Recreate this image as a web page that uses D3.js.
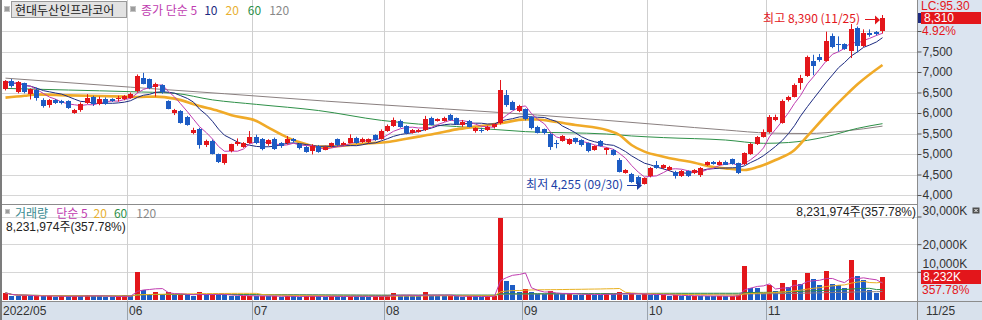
<!DOCTYPE html>
<html>
<head>
<meta charset="utf-8">
<script src="https://cdn.jsdelivr.net/npm/d3@7"></script>
<style>
  body { margin: 0; background: #fff; }
  svg { display: block; }
  text { font-family: "Liberation Sans", "Noto Sans CJK KR", sans-serif; font-size: 12px; }
  .kr { font-family: "Noto Sans CJK KR", sans-serif; }
</style>
</head>
<body>
<svg id="chart" width="982" height="320"></svg>
<script>
// trading days per month, 2022
const DAYS_MAY = [3, 4, 6, 9, 10, 11, 12, 13, 16, 17, 18, 19, 20, 23, 24, 25, 26, 27, 30, 31];
const DAYS_JUN = [2, 3, 7, 8, 9, 10, 13, 14, 15, 16, 17, 20, 21, 22, 23, 24, 27, 28, 29, 30];
const DAYS_JUL = [1, 4, 5, 6, 7, 8, 11, 12, 13, 14, 15, 18, 19, 20, 21, 22, 25, 26, 27, 28, 29];
const DAYS_AUG = [1, 2, 3, 4, 5, 8, 9, 10, 11, 12, 16, 17, 18, 19, 22, 23, 24, 25, 26, 29, 30, 31];
const DAYS_SEP = [1, 2, 5, 6, 7, 8, 13, 14, 15, 16, 19, 20, 21, 22, 23, 26, 27, 28, 29, 30];
const DAYS_OCT = [4, 5, 6, 7, 11, 12, 13, 14, 17, 18, 19, 20, 21, 24, 25, 26, 27, 28, 31];
const DAYS_NOV = [1, 2, 3, 4, 7, 8, 9, 10, 11, 14, 15, 16, 17, 18, 21, 22, 23, 24, 25];

const MONTH_LABELS = ["2022/05", "06", "07", "08", "09", "10", "11"];

// [open, high, low, close]
const OHLC = [
  [6580, 6800, 6550, 6780], [6780, 6830, 6620, 6660], [6500, 6780, 6480, 6755], [6720, 6740, 6480, 6500],
  [6455, 6600, 6330, 6577], [6560, 6620, 6300, 6375], [6317, 6360, 6130, 6170], [6187, 6340, 6130, 6317],
  [6317, 6340, 6220, 6250], [6290, 6320, 6210, 6235], [6290, 6310, 6100, 6130], [6010, 6100, 5980, 6073],
  [6073, 6260, 6030, 6211], [6252, 6460, 6220, 6374], [6390, 6420, 6170, 6211], [6236, 6400, 6190, 6350],
  [6350, 6380, 6200, 6236], [6333, 6360, 6270, 6293], [6333, 6420, 6280, 6358], [6333, 6440, 6310, 6415],
  [6374, 6500, 6350, 6472], [6537, 6940, 6500, 6902], [6862, 6980, 6700, 6724], [6820, 6840, 6580, 6593],
  [6618, 6740, 6400, 6700], [6675, 6700, 6470, 6496], [6293, 6310, 6090, 6106], [6008, 6100, 5950, 6073],
  [6049, 6070, 5740, 5764], [5910, 5930, 5690, 5707], [5520, 5640, 5480, 5585], [5600, 5640, 5130, 5211],
  [5211, 5350, 5170, 5317], [5317, 5350, 4990, 5008], [4992, 5010, 4780, 4805], [4770, 5000, 4740, 4992],
  [5073, 5250, 5040, 5236], [5260, 5380, 5200, 5300], [5180, 5290, 5150, 5276], [5276, 5560, 5250, 5423],
  [5423, 5470, 5240, 5276], [5357, 5390, 5090, 5114], [5236, 5360, 5200, 5341], [5374, 5400, 5100, 5130],
  [5260, 5290, 5150, 5179], [5260, 5440, 5230, 5357], [5357, 5390, 5280, 5309], [5236, 5260, 5110, 5130],
  [5179, 5200, 5030, 5049], [5073, 5240, 4990, 5195], [5195, 5220, 5030, 5049], [5114, 5200, 5090, 5179],
  [5179, 5280, 5160, 5260], [5357, 5380, 5190, 5211], [5236, 5300, 5210, 5276], [5276, 5480, 5260, 5398],
  [5398, 5420, 5250, 5276], [5292, 5400, 5270, 5374], [5276, 5380, 5260, 5357], [5455, 5480, 5320, 5341],
  [5374, 5600, 5350, 5561], [5561, 5720, 5540, 5683], [5683, 5890, 5660, 5829], [5805, 5840, 5640, 5667],
  [5683, 5700, 5480, 5504], [5520, 5610, 5500, 5585], [5537, 5610, 5520, 5585], [5585, 5930, 5560, 5845],
  [5886, 5910, 5700, 5724], [5805, 5870, 5790, 5845], [5810, 5910, 5790, 5880], [5951, 5980, 5810, 5829],
  [5870, 5890, 5710, 5732], [5707, 5830, 5660, 5789], [5805, 5830, 5650, 5667], [5545, 5650, 5520, 5626],
  [5590, 5640, 5520, 5565], [5585, 5690, 5560, 5667], [5642, 5740, 5620, 5724], [5748, 6805, 5720, 6561],
  [6440, 6560, 6150, 6195], [6276, 6300, 6070, 6090], [6049, 6200, 6020, 6170], [6090, 6110, 5820, 5846],
  [5894, 5920, 5600, 5626], [5667, 5690, 5500, 5520], [5600, 5620, 5480, 5504], [5488, 5510, 5100, 5163],
  [5276, 5340, 5140, 5260], [5325, 5460, 5300, 5439], [5236, 5380, 5220, 5357], [5382, 5400, 5250, 5276],
  [5341, 5360, 5180, 5220], [5260, 5280, 5040, 5057], [5098, 5210, 5080, 5195], [5325, 5340, 5180, 5195],
  [5081, 5160, 4983, 5138], [5097, 5120, 4960, 4975], [4854, 4900, 4550, 4569], [4545, 4630, 4520, 4610],
  [4512, 4540, 4300, 4325], [4447, 4470, 4270, 4285], [4268, 4430, 4255, 4406], [4447, 4680, 4430, 4650],
  [4732, 4830, 4640, 4667], [4650, 4750, 4630, 4732], [4610, 4710, 4590, 4690], [4569, 4590, 4400, 4463],
  [4463, 4610, 4440, 4593], [4585, 4600, 4440, 4463], [4528, 4630, 4510, 4610], [4488, 4680, 4440, 4650],
  [4732, 4820, 4710, 4797], [4797, 4830, 4740, 4756], [4732, 4840, 4720, 4797], [4813, 4840, 4730, 4748],
  [4870, 4890, 4740, 4756], [4772, 4790, 4510, 4528], [4748, 5040, 4730, 5016], [5000, 5270, 4980, 5244],
  [5244, 5440, 5220, 5407], [5423, 5600, 5400, 5545], [5520, 5950, 5500, 5894], [5829, 5960, 5800, 5911],
  [5764, 6330, 5740, 6301], [6301, 6420, 6280, 6382], [6398, 6720, 6380, 6683], [6724, 6930, 6570, 6846],
  [6902, 7400, 6880, 7358], [7276, 7420, 6920, 7154], [7358, 7440, 7250, 7276], [7276, 7984, 7250, 7764],
  [7878, 7940, 7580, 7618], [7683, 7870, 7500, 7659], [7675, 7700, 7540, 7561], [7496, 8171, 7340, 8041],
  [8065, 8110, 7480, 7634], [7634, 8040, 7610, 7943], [7959, 8040, 7860, 7919], [7976, 8000, 7890, 7920],
  [7984, 8390, 7940, 8310],
];

// volume, thousand shares
const VOLUME = [
  2400, 1300, 1100, 1500, 1200, 1400, 1100, 1300, 1000, 1200, 1100, 1400, 1200, 1500, 1300, 1200, 1000, 900, 1100, 1500,
  1300, 9950, 3350, 2000, 2700, 1700, 2600, 1600, 1800, 1500, 1300, 2700, 1600, 1900, 1700, 1500, 1400, 1200, 1300, 1400,
  1200, 1300, 1100, 1200, 1000, 1300, 1100, 1000, 1200, 1300, 1100, 1000, 1200, 1100, 1000, 1400, 1200, 1100, 1000, 1100, 1300,
  1500, 2300, 1400, 1300, 1200, 1100, 2750, 1500, 1300, 1200, 1300, 1100, 1000, 1200, 1100, 1000, 1200, 1300, 29460, 6600, 5150, 2750,
  3950, 2750, 2100, 1900, 3000, 2100, 1900, 2000, 1800, 1700, 2000, 1800, 1600, 2300, 1900, 2750, 1800, 2000, 1700, 2100,
  1800, 1500, 1700, 1400, 1500, 1300, 1200, 1400, 1300, 1200, 1100, 1300, 1100, 1200, 1700, 12200, 4300, 4250, 2200,
  5200, 3000, 6000, 4450, 7000, 5500, 9650, 7350, 5200, 10250, 5550, 5400, 4100, 14200, 8450, 7000, 3600, 2300, 8232,
];

// longer averages: [day index, value]
const MA20_PTS = [
  [0, 6374], [3, 6420], [5, 6455], [10, 6430], [15, 6415], [19, 6400], [21, 6390], [24, 6400], [27, 6350],
  [31, 6170], [34, 6049], [36, 5943], [40, 5805], [42, 5642], [45, 5400], [48, 5236], [50, 5179], [52, 5179],
  [56, 5236], [58, 5260], [61, 5292], [64, 5374], [66, 5423], [69, 5504], [72, 5600], [75, 5667], [79, 5748],
  [83, 5845], [85, 5840], [88, 5780], [91, 5707], [96, 5585], [98, 5463], [100, 5220], [102, 5057], [105, 4935],
  [107, 4870], [110, 4789], [112, 4707], [115, 4650], [118, 4610], [120, 4680], [123, 4854], [126, 5097],
  [128, 5440], [131, 5951], [134, 6398], [136, 6700], [140, 7171],
];
const MA60_PTS = [
  [0, 6600], [10, 6560], [20, 6520], [27, 6480], [33, 6320], [40, 6210], [50, 6060], [60, 5820], [66, 5730],
  [72, 5670], [83, 5545], [96, 5488], [100, 5440], [105, 5400], [115, 5341], [121, 5260], [125, 5280],
  [131, 5423], [136, 5626], [140, 5740],
];
const MA120_PTS = [
  [0, 6850], [20, 6630], [35, 6470], [51, 6290], [70, 6100], [85, 5950], [105, 5707], [115, 5585],
  [122, 5510], [128, 5500], [134, 5560], [140, 5680],
];

const PRICE_TICKS = [4000, 4500, 5000, 5500, 6000, 6500, 7000, 7500, 8000];
const VOL_TICKS = [10000, 20000, 30000];

const RED = "#e3161b";
const BLUE = "#1d5cc4";
const C_MA5 = "#c03cb0";
const C_MA10 = "#1c2a80";
const C_MA20 = "#f0aa28";
const C_MA60 = "#2e9048";
const C_MA120 = "#8a8080";

const svg = d3.select("#chart");
const PLOT_L = 2, PLOT_R = 917;
const SEP_Y = 204.5, BAND_Y = 301.5;

const dates = [];
[DAYS_MAY, DAYS_JUN, DAYS_JUL, DAYS_AUG, DAYS_SEP, DAYS_OCT, DAYS_NOV].forEach((days, m) => {
  days.forEach((d) => dates.push(`2022-${String(m + 5).padStart(2, "0")}-${String(d).padStart(2, "0")}`));
});
const candles = OHLC.map((r, i) => ({ i, date: dates[i], o: r[0], h: r[1], l: r[2], c: r[3] }));
const closes = candles.map((d) => d.c);

function movingAvg(values, n) {
  return values.map((_, i) => d3.mean(values.slice(Math.max(0, i - n + 1), i + 1)));
}

const x = d3.scaleBand().domain(dates).range([2, 885]);
const cx = (i) => Math.round(x(dates[i]) + x.bandwidth() / 2);
const y = d3.scaleLinear().domain([4000, 8000]).range([195, 31]);
const vy = d3.scaleLinear().domain([0, 30000]).range([299.5, 216.5]);

// backgrounds
svg.append("rect").attr("width", 982).attr("height", 320).attr("fill", "#fff");
svg.append("rect").attr("x", PLOT_R).attr("y", 0).attr("width", 982 - PLOT_R).attr("height", 320).attr("fill", "#dbe4f0");
svg.append("rect").attr("x", 0).attr("y", BAND_Y).attr("width", 982).attr("height", 320 - BAND_Y).attr("fill", "#d8e1ec");

// grid
const grid = svg.append("g").attr("stroke-width", 1);
grid.selectAll("line.hp").data(PRICE_TICKS).join("line")
  .attr("x1", PLOT_L).attr("x2", PLOT_R)
  .attr("y1", (d) => Math.round(y(d)) + 0.5).attr("y2", (d) => Math.round(y(d)) + 0.5)
  .attr("stroke", "#d6d6d6");
grid.selectAll("line.hv").data(VOL_TICKS).join("line")
  .attr("x1", PLOT_L).attr("x2", PLOT_R)
  .attr("y1", (d) => Math.round(vy(d)) + 0.5).attr("y2", (d) => Math.round(vy(d)) + 0.5)
  .attr("stroke", "#d6d6d6");

const monthStarts = [0];
dates.forEach((d, i) => { if (i > 0 && d.slice(5, 7) !== dates[i - 1].slice(5, 7)) monthStarts.push(i); });
const monthX = (i) => Math.round(x(dates[i])) + 0.5;
grid.selectAll("line.vm").data(monthStarts.slice(1)).join("line")
  .attr("x1", monthX).attr("x2", monthX)
  .attr("y1", 0).attr("y2", BAND_Y)
  .attr("stroke", "#cfcfcf");
grid.selectAll("line.vb").data(monthStarts.slice(1)).join("line")
  .attr("x1", monthX).attr("x2", monthX)
  .attr("y1", BAND_Y).attr("y2", 320)
  .attr("stroke", "#9aa3ad");

// frame lines
svg.append("line").attr("x1", 0).attr("x2", PLOT_R).attr("y1", SEP_Y).attr("y2", SEP_Y).attr("stroke", "#8c8c8c");
svg.append("line").attr("x1", 0).attr("x2", 982).attr("y1", BAND_Y).attr("y2", BAND_Y).attr("stroke", "#8c8c8c");
svg.append("line").attr("x1", PLOT_R + 0.5).attr("x2", PLOT_R + 0.5).attr("y1", 0).attr("y2", 320).attr("stroke", "#8c8c8c");
svg.append("rect").attr("x", 0).attr("y", 0).attr("width", 2).attr("height", 320).attr("fill", "#7c7c7c");

// price moving averages
const line = d3.line().x((d) => cx(d[0]) + 0.5).y((d) => y(d[1]));
const smooth = d3.line().x((d) => cx(d[0]) + 0.5).y((d) => y(d[1])).curve(d3.curveMonotoneX);
const pg = svg.append("g").attr("fill", "none");
pg.append("path").attr("d", smooth(MA120_PTS)).attr("stroke", C_MA120).attr("stroke-width", 1);
pg.append("path").attr("d", smooth(MA60_PTS)).attr("stroke", C_MA60).attr("stroke-width", 1);
pg.append("path").attr("d", smooth(MA20_PTS)).attr("stroke", C_MA20).attr("stroke-width", 2.6);
pg.append("path").attr("d", line(movingAvg(closes, 10).map((v, i) => [i, v]))).attr("stroke", C_MA10).attr("stroke-width", 1);
pg.append("path").attr("d", line(movingAvg(closes, 5).map((v, i) => [i, v]))).attr("stroke", C_MA5).attr("stroke-width", 1);

// candles
const cg = svg.append("g");
cg.selectAll("line.wick").data(candles).join("line")
  .attr("x1", (d) => cx(d.i) + 0.5).attr("x2", (d) => cx(d.i) + 0.5)
  .attr("y1", (d) => y(d.h)).attr("y2", (d) => y(d.l))
  .attr("stroke", (d) => (d.c >= d.o ? RED : BLUE));
cg.selectAll("rect.body").data(candles).join("rect")
  .attr("x", (d) => cx(d.i) - 2).attr("width", 5)
  .attr("y", (d) => Math.round(y(Math.max(d.o, d.c))))
  .attr("height", (d) => Math.max(1, Math.round(Math.abs(y(d.o) - y(d.c)))))
  .attr("fill", (d) => (d.c >= d.o ? RED : BLUE));

// volume bars, red when volume rose from the day before
const vols = VOLUME.map((v, i) => ({ i, v, up: i === 0 || v >= VOLUME[i - 1] }));
const vg = svg.append("g");
vg.selectAll("rect").data(vols).join("rect")
  .attr("x", (d) => cx(d.i) - 2).attr("width", 5)
  .attr("y", (d) => Math.round(vy(d.v)))
  .attr("height", (d) => Math.round(vy(0)) - Math.round(vy(d.v)))
  .attr("fill", (d) => (d.up ? RED : BLUE));

const vline = d3.line().x((d, i) => cx(i) + 0.5).y((d) => vy(d));
[[120, C_MA120], [60, C_MA60], [20, "#e8b020"], [5, C_MA5]].forEach(([n, color]) => {
  vg.append("path").attr("d", vline(movingAvg(VOLUME, n))).attr("fill", "none").attr("stroke", color).attr("stroke-width", 1);
});

// right axes
const pAxis = svg.append("g").attr("transform", `translate(${PLOT_R + 0.5},0)`)
  .call(d3.axisRight(y).tickValues(PRICE_TICKS).tickSize(4).tickPadding(1)
    .tickFormat((d) => (d === 8000 ? "" : d3.format(",")(d))));
const vAxis = svg.append("g").attr("transform", `translate(${PLOT_R + 0.5},0)`)
  .call(d3.axisRight(vy).tickValues(VOL_TICKS).tickSize(4).tickPadding(1)
    .tickFormat((d) => d3.format(",")(d) + "K"));
[pAxis, vAxis].forEach((a) => {
  a.select(".domain").remove();
  a.selectAll(".tick line").attr("stroke", "#555");
  a.selectAll(".tick text").attr("fill", "#333").attr("font-size", 12)
    .attr("font-family", "Liberation Sans, sans-serif");
});
vAxis.selectAll(".tick").filter((d) => d === 30000).select("text").attr("dy", "-0.2em");
vAxis.selectAll(".tick").filter((d) => d === 10000).select("text").attr("dy", "-0.35em").attr("font-size", 11);

// current price marks
const last = candles[candles.length - 1];
svg.append("text").attr("x", 921).attr("y", 6).attr("font-size", 11).attr("dominant-baseline", "central").attr("fill", RED).text("LC:95.30");
svg.append("rect").attr("x", 918).attr("y", Math.round(y(last.c)) - 5).attr("width", 3).attr("height", 10).attr("fill", "#1c2a80");
svg.append("rect").attr("x", 921).attr("y", Math.round(y(last.c)) - 6).attr("width", 60).attr("height", 12).attr("fill", RED);
svg.append("text").attr("x", 924).attr("y", y(last.c)).attr("font-size", 11.5).attr("dominant-baseline", "central").attr("fill", "#fff")
  .text(d3.format(",")(last.c));
svg.append("text").attr("x", 922).attr("y", 31).attr("font-size", 11.5).attr("dominant-baseline", "central").attr("fill", RED).text("4.92%");

const lastVol = VOLUME[VOLUME.length - 1];
svg.append("rect").attr("x", 921).attr("y", Math.round(vy(lastVol)) - 7).attr("width", 60).attr("height", 14).attr("fill", RED);
svg.append("text").attr("x", 923).attr("y", vy(lastVol)).attr("font-size", 11.5).attr("dominant-baseline", "central").attr("fill", "#fff")
  .text(d3.format(",")(lastVol) + "K");
svg.append("text").attr("x", 922).attr("y", 289.5).attr("font-size", 11.5).attr("dominant-baseline", "central").attr("fill", RED).text("357.78%");

// close box
svg.append("rect").attr("x", 972.5).attr("y", 207.5).attr("width", 7).attr("height", 6).attr("fill", "#505050");
svg.append("path").attr("d", "M974.5,209 L977.5,212 M977.5,209 L974.5,212").attr("stroke", "#fff").attr("stroke-width", 1);

// bottom date labels
svg.selectAll("text.month").data(monthStarts).join("text")
  .attr("x", (d, k) => (k === 0 ? 3 : monthX(d) + 1.5))
  .attr("y", 310.5).attr("dominant-baseline", "central").attr("fill", "#333")
  .text((d, k) => MONTH_LABELS[k]);
svg.append("text").attr("x", 926).attr("y", 310.5).attr("dominant-baseline", "central").attr("fill", "#333").text("11/25");

// high / low notes
const hiIdx = d3.maxIndex(candles, (d) => d.h);
const loIdx = d3.minIndex(candles, (d) => d.l);
const hi = candles[hiIdx], lo = candles[loIdx];
const md = (d) => d.date.slice(5).replace("-", "/");

svg.append("text").attr("class", "kr").attr("x", cx(hiIdx) - 22).attr("y", y(hi.h) + 2.5)
  .attr("text-anchor", "end").attr("dominant-baseline", "central").attr("fill", RED)
  .text(`최고 ${d3.format(",")(hi.h)} (${md(hi)})`);
svg.append("line").attr("x1", cx(hiIdx) - 17).attr("x2", cx(hiIdx) - 6)
  .attr("y1", Math.round(y(hi.h)) + 4.5).attr("y2", Math.round(y(hi.h)) + 4.5).attr("stroke", RED);
svg.append("path").attr("d", `M${cx(hiIdx) - 7},${Math.round(y(hi.h)) + 0.5} l5,4.5 l-5,4.5 z`).attr("fill", RED);

const LOW_BLUE = "#1b3fa6";
svg.append("text").attr("class", "kr").attr("x", cx(loIdx) - 21).attr("y", y(lo.l) - 1.5)
  .attr("text-anchor", "end").attr("dominant-baseline", "central").attr("fill", LOW_BLUE)
  .text(`최저 ${d3.format(",")(lo.l)} (${md(lo)})`);
svg.append("line").attr("x1", cx(loIdx) - 17).attr("x2", cx(loIdx) - 6)
  .attr("y1", Math.round(y(lo.l)) + 0.5).attr("y2", Math.round(y(lo.l)) + 0.5).attr("stroke", LOW_BLUE);
svg.append("path").attr("d", `M${cx(loIdx) - 7},${Math.round(y(lo.l)) - 4} l5,4.5 l-5,4.5 z`).attr("fill", LOW_BLUE);

// legends
function legend(yc, items, startX) {
  let xx = startX;
  items.forEach(([label, color, gap]) => {
    const t = svg.append("text").attr("class", "kr").attr("x", xx).attr("y", yc)
      .attr("dominant-baseline", "central").attr("fill", color).text(label);
    xx += t.node().getComputedTextLength() + gap;
  });
}
svg.append("rect").attr("x", 4.5).attr("y", 6.5).attr("width", 5).attr("height", 5).attr("fill", "#9c9c9c").attr("stroke", "#c4c4c4");
svg.append("rect").attr("x", 11.5).attr("y", 1.5).attr("width", 115).attr("height", 16).attr("fill", "#e2e2e2").attr("stroke", "#9a9a9a");
svg.append("text").attr("class", "kr").attr("x", 15).attr("y", 9.5).attr("dominant-baseline", "central").attr("fill", "#222").text("현대두산인프라코어");
svg.append("rect").attr("x", 130.5).attr("y", 6.5).attr("width", 5).attr("height", 5).attr("fill", "#9c9c9c").attr("stroke", "#c4c4c4");
legend(9.5, [["종가 단순 5", C_MA5, 7], ["10", C_MA10, 8], ["20", "#e8b030", 9], ["60", C_MA60, 8], ["120", "#888", 0]], 141);

svg.append("rect").attr("x", 5.5).attr("y", 209.5).attr("width", 4).attr("height", 4).attr("fill", "#9c9c9c").attr("stroke", "#c4c4c4");
legend(212.5, [["거래량", "#3a8c92", 8], ["단순 5", C_MA5, 6], ["20", "#e8b030", 7], ["60", C_MA60, 9], ["120", "#888", 0]], 15);
svg.append("text").attr("x", 6).attr("y", 227).attr("dominant-baseline", "central").attr("fill", "#222")
  .text("8,231,974주(357.78%)");
svg.append("text").attr("x", 916).attr("y", 211.5).attr("text-anchor", "end").attr("dominant-baseline", "central").attr("fill", "#222")
  .text("8,231,974주(357.78%)");
</script>
</body>
</html>
